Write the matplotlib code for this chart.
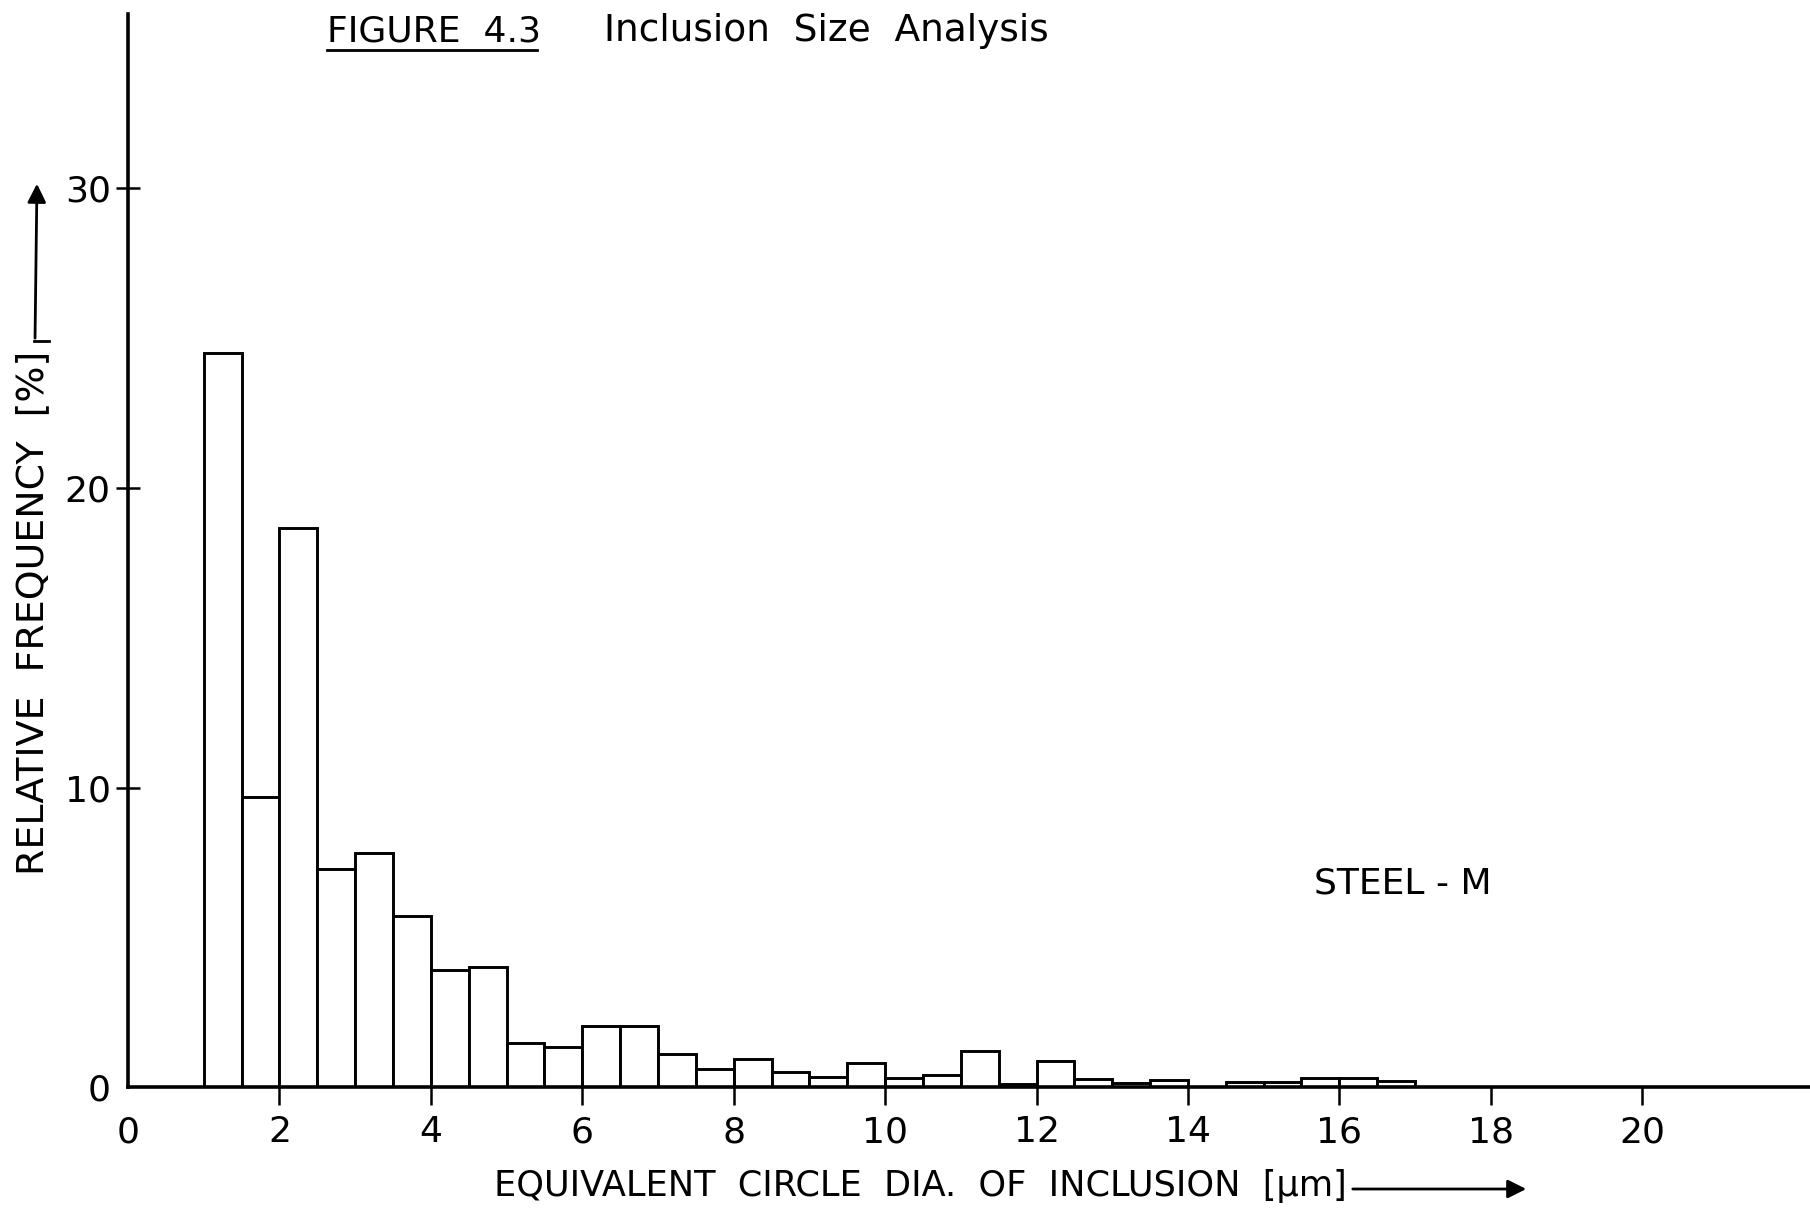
import matplotlib
matplotlib.use("Agg")
import matplotlib.pyplot as plt
from matplotlib.lines import Line2D
import numpy as np

# inclusion size classes, 0.5 um wide, starting at 1.0 um
bin_left = np.arange(1.0, 17.0, 0.5)
rel_freq = [24.5, 9.7, 18.65, 7.28, 7.82, 5.7, 3.9, 4.0,
            1.47, 1.35, 2.05, 2.05, 1.1, 0.62, 0.95, 0.52,
            0.35, 0.82, 0.32, 0.42, 1.22, 0.12, 0.88, 0.27,
            0.14, 0.26, 0.0, 0.16, 0.16, 0.32, 0.32, 0.2]
bin_width = 0.5

x_ticks = [0, 2, 4, 6, 8, 10, 12, 14, 16, 18, 20]
y_ticks = [0, 10, 20, 30]

W, H = 1810, 1214
plt.rcParams['font.family'] = ['DejaVu Sans']


def fx(x):
    return x / W


def fy(y):
    return 1 - y / H


fig = plt.figure(figsize=(W / 100, H / 100), dpi=100)
ax = fig.add_axes([0.07077, 0.10437, 0.9285, 0.8838])

ax.bar(bin_left, rel_freq, width=bin_width, align='edge',
       facecolor='white', edgecolor='black', linewidth=2.1, zorder=2)

ax.set_xlim(0, 22.2)
ax.set_ylim(0, 35.8)
for s in ['top', 'right']:
    ax.spines[s].set_visible(False)
for s in ['left', 'bottom']:
    ax.spines[s].set_linewidth(2.6)
    ax.spines[s].set_zorder(3)

ax.set_xticks(x_ticks)
ax.set_yticks(y_ticks)
ax.tick_params(axis='x', direction='out', length=13, width=1.8, pad=7, labelsize=26)
ax.tick_params(axis='y', direction='inout', length=17, width=1.8, pad=4, labelsize=26)
# no tick marks at the origin
ax.xaxis.get_major_ticks()[0].tick1line.set_visible(False)
ax.yaxis.get_major_ticks()[0].tick1line.set_visible(False)

# title
fig.text(fx(327), fy(31), 'FIGURE  4.3', fontsize=26, ha='left', va='center')
fig.add_artist(Line2D([fx(327), fx(537)], [fy(50), fy(50)], color='black', lw=2))
fig.text(fx(604), fy(31), 'Inclusion  Size  Analysis', fontsize=27, ha='left', va='center')

# x label with arrow
fig.text(fx(494), fy(1186), 'EQUIVALENT  CIRCLE  DIA.  OF  INCLUSION  [μm]',
         fontsize=25.3, ha='left', va='center')
ax.annotate('', xy=(1529, H - 1189), xytext=(1350, H - 1189), xycoords='figure pixels',
            arrowprops=dict(arrowstyle='-|>', lw=2, color='black', mutation_scale=28))

# y label with arrow
fig.text(fx(33), fy(613), 'RELATIVE  FREQUENCY  [%]', fontsize=27.3,
         rotation=90, ha='center', va='center')
ax.annotate('', xy=(37, H - 181), xytext=(35, H - 341), xycoords='figure pixels',
            arrowprops=dict(arrowstyle='-|>', lw=2, color='black', mutation_scale=28))
fig.add_artist(Line2D([fx(34), fx(49)], [fy(341), fy(341)], color='black', lw=2))

ax.text(15.67, 6.8, 'STEEL - M', fontsize=26, ha='left', va='center')

fig.savefig('out.png', dpi=100)
